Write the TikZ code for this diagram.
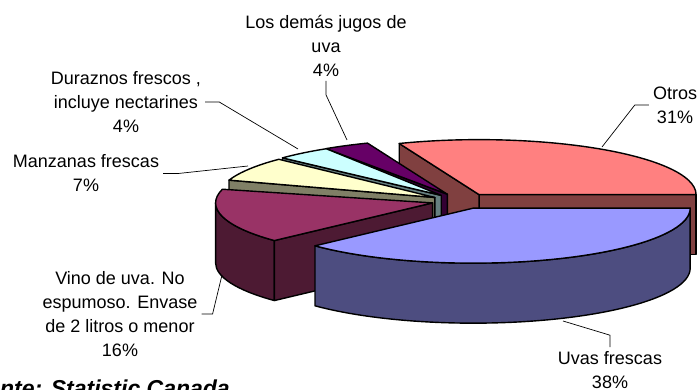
\documentclass[tikz,border=0pt]{standalone}
\usepackage{fontspec}
\setmainfont{Liberation Sans}
\usetikzlibrary{calc}
\definecolor{otrosT}{HTML}{FF8080}\definecolor{otrosS}{HTML}{804040}
\definecolor{losT}{HTML}{660066}\definecolor{losS}{HTML}{330033}
\definecolor{durT}{HTML}{CCFFFF}\definecolor{durS}{HTML}{668080}
\definecolor{manT}{HTML}{FFFFCC}\definecolor{manS}{HTML}{808066}
\definecolor{vinT}{HTML}{993366}\definecolor{vinS}{HTML}{4D1A33}
\definecolor{uvaT}{HTML}{9999FF}\definecolor{uvaS}{HTML}{4D4D80}
\newcommand\pieTop[4]{\filldraw[fill=#4,pieline] (#1) -- ($(#1)+(#2:217 and 55)$) arc[start angle=#2,end angle=#3,x radius=217,y radius=55] -- cycle;}
\newcommand\pieRad[3]{\filldraw[fill=#3,pieline] (#1) -- ($(#1)+(#2:217 and 55)$) -- ++(0,-60) -- ($(#1)+(0,-60)$) -- cycle;}
\newcommand\pieSide[4]{\filldraw[fill=#4,pieline] ($(#1)+(#2:217 and 55)$) arc[start angle=#2,end angle=#3,x radius=217,y radius=55] -- ++(0,-60) arc[start angle=#3,end angle=#2,x radius=217,y radius=55] -- cycle;}
\begin{document}
\begin{tikzpicture}[x=1pt,y=1pt,
  pieline/.style={draw=black,line width=1.4pt,line join=round},
  leader/.style={draw=black,line width=0.7pt},
  lbl/.style={align=center,inner sep=4pt,font=\fontsize{18}{24}\selectfont}]
\useasboundingbox (0,0) rectangle (698,390);
\fill[white] (0,0) rectangle (698,390);
\coordinate (C) at (462,189);
\coordinate (O) at ($(C)+(55.8:30.38 and 7.7)$);
\coordinate (L) at ($(C)+(118.8:30.38 and 7.7)$);
\coordinate (D) at ($(C)+(133.2:30.38 and 7.7)$);
\coordinate (M) at ($(C)+(153:30.38 and 7.7)$);
\coordinate (V) at ($(C)+(194.4:30.38 and 7.7)$);
\coordinate (U) at ($(C)+(291.6:30.38 and 7.7)$);
% Otros
\pieRad{O}{0}{otrosS}
\pieRad{O}{111.6}{otrosS}
\pieTop{O}{0}{111.6}{otrosT}
% Los demas jugos
\pieRad{L}{124}{losS}
\pieTop{L}{111.6}{124}{losT}
% Duraznos
\pieRad{D}{137}{durS}
\pieTop{D}{122}{137}{durT}
% Manzanas
\pieRad{M}{161.6}{manS}
\pieTop{M}{136}{161.6}{manT}
% Vino
\pieSide{V}{180}{223.2}{vinS}
\pieRad{V}{223.2}{vinS}
\pieTop{V}{165.6}{223.2}{vinT}
% Uvas
\pieSide{U}{223.2}{360}{uvaS}
\pieTop{U}{223.2}{360}{uvaT}
% labels
\node[lbl] (otros) at (675,285) {Otros\\31\%};
\node[lbl] (los) at (326,344) {Los demás jugos de\\uva\\4\%};
\node[lbl] (dur) at (126,288) {Duraznos frescos ,\\incluye nectarines\\4\%};
\node[lbl] (man) at (86,216.5) {Manzanas frescas\\7\%};
\node[lbl] (vino) at (120,76) {Vino de uva. No\\espumoso. Envase\\de 2 litros o menor\\16\%};
\node[lbl] (uvas) at (610,20) {Uvas frescas\\38\%};
\coordinate (otrosTip) at (602,243);
\coordinate (losTip) at (347,250);
\coordinate (durTip) at (298,241);
\coordinate (manTip) at (248,224);
\coordinate (vinoTip) at (222,115);
\coordinate (uvasTip) at (563,69);
\draw[leader] (otros.west) -- ++(-14,0) -- (otrosTip);
\draw[leader] (los.south) -- ++(0,-14) -- (losTip);
\draw[leader] (dur.east) -- ++(14,0) -- (durTip);
\draw[leader] (man.east) -- ++(15,0) -- (manTip);
\draw[leader] (vino.east) -- ++(11,0) -- (vinoTip);
\draw[leader] (uvas.north) -- ++(0,12) -- (uvasTip);
\node[anchor=base east,inner sep=0pt,font=\fontsize{23}{27}\selectfont\bfseries\itshape] (src) at (230,-7) {Fuente: Statistic Canada};
\end{tikzpicture}
\end{document}
